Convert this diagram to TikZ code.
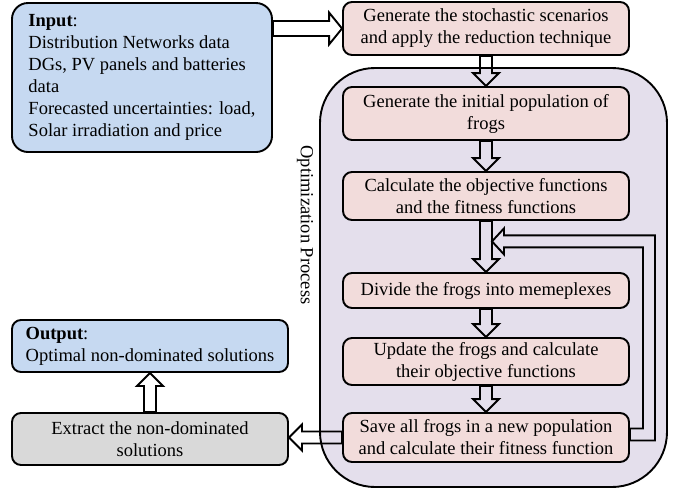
\documentclass[tikz,border=0pt]{standalone}
\usepackage{fontspec}
\setmainfont{Liberation Serif}
\usetikzlibrary{calc}

\definecolor{inblue}{HTML}{C6D9F1}
\definecolor{steppink}{HTML}{F2DCDB}
\definecolor{optlilac}{HTML}{E4DFEC}
\definecolor{outgrey}{HTML}{D9D9D9}

% sizes of the hollow block arrows
\def\shafthw{6pt}
\def\headhw{13pt}
\def\headlen{13pt}
\newcommand{\hollowarrow}[2]{%
  \coordinate (hb) at ($(#2)!\headlen!(#1)$);
  \draw[arrowline] ($(#1)!\shafthw!90:(#2)$) -- ($(hb)!\shafthw!90:(#2)$)
    -- ($(hb)!\headhw!90:(#2)$) -- (#2) -- ($(hb)!\headhw!-90:(#2)$)
    -- ($(hb)!\shafthw!-90:(#2)$) -- ($(#1)!\shafthw!-90:(#2)$) -- cycle;
}

\tikzset{
  box/.style={draw, line width=1.9pt, rounded corners=9pt, minimum width=286pt, inner sep=2pt, align=center},
  stepbox/.style={box, fill=steppink},
  arrowline/.style={line width=1.9pt, line join=miter},
}

\begin{document}
\begin{tikzpicture}[x=1pt, y=1pt, font=\fontsize{18.5}{22}\selectfont]
\useasboundingbox (0,0) rectangle (678,-491);

% Optimization region
\draw[line width=1.9pt, fill=optlilac, rounded corners=55pt] (320,-68) rectangle (667,-487);
\node[rotate=-90] (optlabel) at (305,-225) {Optimization Process};

% Input and output side
\node[box, fill=inblue, minimum width=260pt, minimum height=149pt, rounded corners=16pt, align=left] (inbox) at (142,-77.5)
  {\textbf{Input}:\\Distribution Networks data\\DGs, PV panels and batteries\\data\\Forecasted uncertainties: load,\\Solar irradiation and price};
\node[box, fill=inblue, minimum width=276pt, minimum height=52pt, align=left] (outbox) at (150,-346)
  {\textbf{Output}:\\Optimal non-dominated solutions};
\node[box, fill=outgrey, minimum width=276pt, minimum height=52pt] (extract) at (150,-439)
  {Extract the non-dominated\\solutions};

% Steps
\node[stepbox, minimum height=53pt] (scen) at (486,-28.5) {Generate the stochastic scenarios\\and apply the reduction technique};
\node[stepbox, minimum height=53pt] (init) at (486,-113.5) {Generate the initial population of\\frogs};
\node[stepbox, minimum height=48pt] (calc) at (486,-196) {Calculate the objective functions\\and the fitness functions};
\node[stepbox, minimum height=35pt] (divide) at (486,-290.5) {Divide the frogs into memeplexes};
\node[stepbox, minimum height=47pt] (update) at (486,-361.5) {Update the frogs and calculate\\their objective functions};
\node[stepbox, minimum height=49pt] (save) at (486,-437.5) {Save all frogs in a new population\\and calculate their fitness function};

% Arrows
\coordinate (inout) at (inbox.east |- scen.west);
\coordinate (exin) at (extract.east |- save.west);
\begin{scope}
\def\shafthw{7.5pt}\def\headhw{16pt}
\hollowarrow{inout}{scen.west}
\end{scope}
\hollowarrow{scen.south}{init.north}
\hollowarrow{init.south}{calc.north}
\hollowarrow{calc.south}{divide.north}
\hollowarrow{divide.south}{update.north}
\hollowarrow{update.south}{save.north}
\hollowarrow{save.west}{exin}
\hollowarrow{extract.north}{outbox.south}

% Feedback loop
\coordinate (fbstart) at ($(save.east)+(0,3)$);
\coordinate (fbtip) at ($(calc.south)!.4!(divide.north)+(6,0)$);
\draw[arrowline] let \p1=(fbstart), \p2=(fbtip) in
  (\x1,\y1+6pt) -- (643pt,\y1+6pt) -- (643pt,\y2-6pt) -- (\x2+12pt,\y2-6pt)
  -- (\x2+12pt,\y2-13pt) -- (\x2,\y2) -- (\x2+12pt,\y2+13pt) -- (\x2+12pt,\y2+6pt)
  -- (655pt,\y2+6pt) -- (655pt,\y1-6pt) -- (\x1,\y1-6pt) -- cycle;

\end{tikzpicture}
\end{document}
